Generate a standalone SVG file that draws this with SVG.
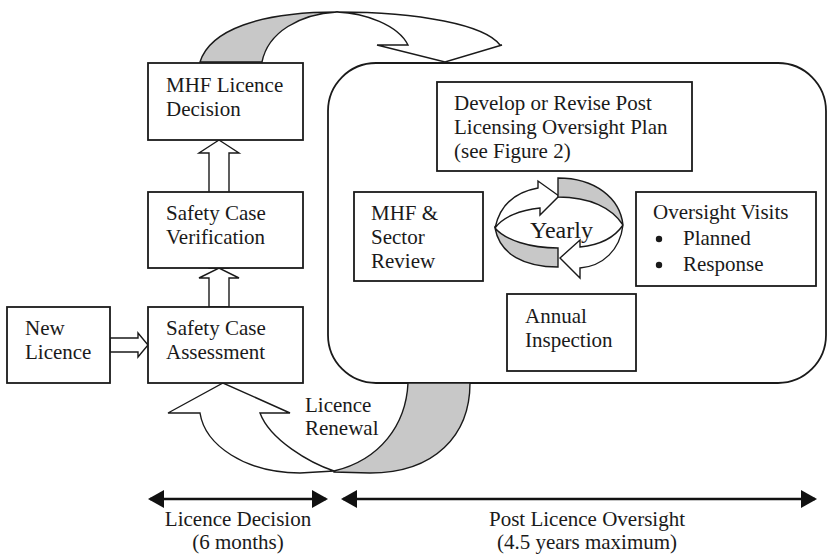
<svg xmlns="http://www.w3.org/2000/svg" width="828" height="555" viewBox="0 0 828 555">
<defs>
<style>
.box{fill:#fff;stroke:#1a1a1a;stroke-width:1.8}
.ol{stroke:#1a1a1a;stroke-width:1.4;stroke-linejoin:miter}
.w{fill:#fff}
.g{fill:#c8c8c8}
text{font-family:"Liberation Serif","Times New Roman",serif;font-size:21px;fill:#1a1a1a}
.tl{stroke:#111;stroke-width:2.6;fill:none}
</style>
<marker id="ah" viewBox="0 0 16 18" refX="14" refY="9" markerWidth="16" markerHeight="18" markerUnits="userSpaceOnUse" orient="auto-start-reverse">
<path d="M0,0 L16,9 L0,18 Z" fill="#111"/>
</marker>
</defs>
<rect width="828" height="555" fill="#fff"/>

<g id="post-licence-oversight">
<rect class="box" x="328" y="63" width="498" height="320" rx="48"/>
</g>

<g id="connectors">
<!-- top ribbon arrow MHF Licence Decision -> oversight -->
<path class="ol g" d="M200,62 C210,30 260,12 337,12 C300,14 268,32 262,62 Z"/>
<path class="ol w" d="M337,12 C420,12 485,25 500,45 L502,45 L445,62 L377,45 L408,45 C398,25 365,13 337,12 Z"/>
<!-- bottom ribbon arrow licence renewal -->
<path class="ol w" d="M200,413 C205,445 245,473 300,473 L334,471 C310,463 270,440 260,413 L290,413 L223,383 L168,413 Z"/>
<path class="ol g" d="M334,471 C380,460 406,425 408,383 L470,383 C470,435 435,473 370,473 L334,472 Z"/>
<!-- hollow arrows on the left -->
<path class="ol w" d="M209,268 L209,153 L199,153 L219,140 L239,153 L229,153 L229,268 Z"/>
<path class="ol w" d="M209,307 L209,278 L199,278 L219,268 L239,278 L229,278 L229,307 Z"/>
<path class="ol w" d="M110,338 L138,338 L138,333 L148,345 L138,357 L138,352 L110,352 Z"/>
<!-- yearly cycle -->
<path class="ol w" d="M495,228 C500,205 515,192 538,188 L538,181 L559,196 L540,215 L540,208 C520,210 503,217 495,228 Z"/>
<path class="ol g" d="M558,178 C595,178 620,198 623,225 C612,208 590,197 558,197 Z"/>
<path class="ol g" d="M495,228 C500,255 525,267 558,267 L558,248 C530,248 505,240 495,228 Z"/>
<path class="ol w" d="M623,225 C620,250 603,266 580,268 L580,278 L560,258 L580,240 L580,247 C600,245 615,237 623,225 Z"/>
<!-- timeline -->
<line class="tl" x1="150" y1="499" x2="326" y2="499" marker-start="url(#ah)" marker-end="url(#ah)"/>
<line class="tl" x1="343" y1="499" x2="815" y2="499" marker-start="url(#ah)" marker-end="url(#ah)"/>
</g>

<g id="mhf-licence-decision">
<rect class="box" x="148" y="63" width="155" height="77"/>
<text x="166" y="92">MHF Licence</text>
<text x="166" y="116">Decision</text>
</g>
<g id="safety-case-verification">
<rect class="box" x="148" y="192" width="155" height="76"/>
<text x="166" y="220">Safety Case</text>
<text x="166" y="244">Verification</text>
</g>
<g id="safety-case-assessment">
<rect class="box" x="148" y="307" width="155" height="76"/>
<text x="166" y="335">Safety Case</text>
<text x="166" y="359">Assessment</text>
</g>
<g id="new-licence">
<rect class="box" x="7" y="307" width="103" height="76"/>
<text x="25" y="335">New</text>
<text x="25" y="359">Licence</text>
</g>
<g id="develop-plan">
<rect class="box" x="437" y="82" width="255" height="89"/>
<text x="454" y="110">Develop or Revise Post</text>
<text x="454" y="134">Licensing Oversight Plan</text>
<text x="454" y="158">(see Figure 2)</text>
</g>
<g id="mhf-sector-review">
<rect class="box" x="354" y="192" width="129" height="89"/>
<text x="371" y="220">MHF &amp;</text>
<text x="371" y="244">Sector</text>
<text x="371" y="268">Review</text>
</g>
<g id="oversight-visits">
<rect class="box" x="636" y="192" width="180" height="94"/>
<text x="653" y="219">Oversight Visits</text>
<circle cx="659" cy="239" r="3.2" fill="#1a1a1a"/>
<circle cx="659" cy="265" r="3.2" fill="#1a1a1a"/>
<text x="683" y="245">Planned</text>
<text x="683" y="271">Response</text>
</g>
<g id="annual-inspection">
<rect class="box" x="507" y="294" width="129" height="77"/>
<text x="525" y="323">Annual</text>
<text x="525" y="347">Inspection</text>
</g>
<g id="yearly">
<text x="530" y="238" style="font-size:24px">Yearly</text>
</g>
<g id="labels">
<text x="305" y="412">Licence</text>
<text x="305" y="435">Renewal</text>
<text x="238" y="526" text-anchor="middle">Licence Decision</text>
<text x="238" y="549" text-anchor="middle">(6 months)</text>
<text x="587" y="526" text-anchor="middle">Post Licence Oversight</text>
<text x="587" y="549" text-anchor="middle">(4.5 years maximum)</text>
</g>
</svg>
